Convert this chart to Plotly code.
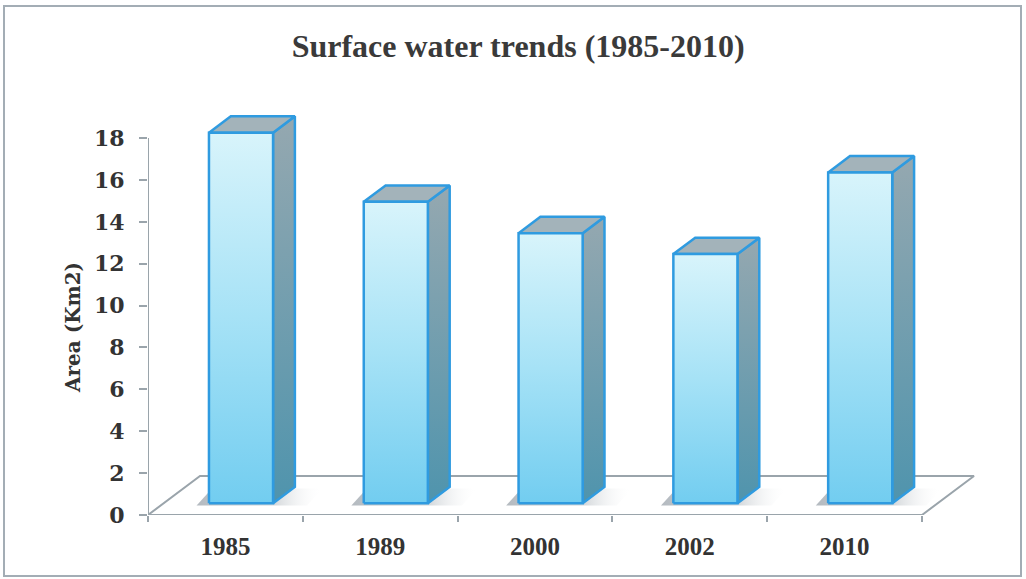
import plotly.graph_objects as go

# ---- data ----
categories = ["1985", "1989", "2000", "2002", "2010"]
area_km2 = [17.7, 14.4, 12.9, 11.9, 15.8]
y_ticks = [0, 2, 4, 6, 8, 10, 12, 14, 16, 18]
title_text = "Surface water trends (1985-2010)"
y_title = "Area (Km2)"

# ---- pseudo-3D geometry (style) ----
DX, DY = 0.336, 1.862      # full floor depth expressed in axis units
F0, F1 = 0.30, 0.72        # bar front / back depth fractions
HALF_W = 0.207             # half bar width (category units)
EDGE = "#2f9be0"
TXT = "#333333"

n = len(categories)
fig = go.Figure()

# floor
fx = [0, n, n + DX, DX, 0]
fy = [0, 0, DY, DY, 0]
fig.add_trace(go.Scatter(x=fx, y=fy, mode="lines", fill="toself",
                         fillcolor="rgba(255,255,255,1)",
                         line=dict(color="#9aa4ab", width=2),
                         hoverinfo="skip", showlegend=False))
# value axis line
fig.add_trace(go.Scatter(x=[0, 0], y=[0, y_ticks[-1]], mode="lines",
                         line=dict(color="#9aa4ab", width=2),
                         hoverinfo="skip", showlegend=False))

ddx = (F1 - F0) * DX
ddy = (F1 - F0) * DY
for i, (cat, v) in enumerate(zip(categories, area_km2)):
    cx = i + 0.5 + F0 * DX
    xl, xr = cx - HALF_W, cx + HALF_W
    yb = F0 * DY
    yt = yb + v
    # soft shadow on floor
    fig.add_trace(go.Scatter(
        x=[xl - 0.08, xr + 0.22, xr + 0.22 + 0.1, xl + 0.02, xl - 0.08],
        y=[yb - 0.1, yb - 0.1, yb + ddy * 0.9, yb + ddy * 0.9, yb - 0.1],
        mode="lines", line=dict(width=0), fill="toself",
        fillgradient=dict(type="horizontal",
                          colorscale=[[0, "rgba(130,140,150,0.6)"], [0.6, "rgba(150,160,168,0.45)"], [1, "rgba(255,255,255,0)"]]),
        hoverinfo="skip", showlegend=False))
    # side face
    fig.add_trace(go.Scatter(
        x=[xr, xr + ddx, xr + ddx, xr, xr],
        y=[yb, yb + ddy, yt + ddy, yt, yb],
        mode="lines", fill="toself",
        fillgradient=dict(type="vertical",
                          colorscale=[[0, "#4f94ad"], [1, "#95a8b0"]]),
        line=dict(color=EDGE, width=2.5),
        hoverinfo="skip", showlegend=False))
    # top face
    fig.add_trace(go.Scatter(
        x=[xl, xr, xr + ddx, xl + ddx, xl],
        y=[yt, yt, yt + ddy, yt + ddy, yt],
        mode="lines", fill="toself", fillcolor="#a3b3ba",
        line=dict(color=EDGE, width=2.5),
        hoverinfo="skip", showlegend=False))
    # front face
    fig.add_trace(go.Scatter(
        x=[xl, xr, xr, xl, xl],
        y=[yb, yb, yt, yt, yb],
        mode="lines", fill="toself",
        fillgradient=dict(type="vertical",
                          colorscale=[[0, "#72cdf0"], [0.5, "#a6e2f6"], [1, "#d8f4fb"]]),
        line=dict(color=EDGE, width=2.5),
        hoverinfo="text", text=f"{cat}: {v}", showlegend=False))

# geometry of plot area in px
L, R, T, B = 148, 36, 100, 64
W, H = 1026, 579
pw, ph = W - L - R, H - T - B
y_max = ph / 20.94
x_max = pw / 154.8

fig.update_layout(
    width=W, height=H,
    margin=dict(l=L, r=R, t=T, b=B),
    paper_bgcolor="white", plot_bgcolor="white",
    title=dict(text=f"<b>{title_text}</b>", x=0.505, xanchor="center",
               y=1 - 46 / H, yanchor="middle", yref="container",
               font=dict(family="Liberation Serif", size=32, color="#3a3a3a")),
    xaxis=dict(range=[0, x_max], showgrid=False, zeroline=False, showline=False,
               tickmode="array", tickvals=[i + 0.5 for i in range(n)],
               ticktext=[f"<b>{c}</b>" for c in categories], ticks="",
               ticklabelstandoff=14,
               tickfont=dict(family="Liberation Serif", size=25, color=TXT),
               minor=dict(tickmode="array", tickvals=list(range(n + 1)),
                          ticks="outside", ticklen=6, tickcolor="#9aa4ab", tickwidth=2),
               fixedrange=True),
    yaxis=dict(range=[0, y_max], showgrid=False, zeroline=False, showline=False,
               tickmode="array", tickvals=y_ticks,
               ticktext=[f"<b>{t}</b>" for t in y_ticks],
               ticks="outside", ticklen=8, tickcolor="#9aa4ab", tickwidth=2,
               ticklabelstandoff=10,
               tickfont=dict(family="DejaVu Serif", size=22, color=TXT),
               fixedrange=True),
    annotations=[dict(text=f"<b>{y_title}</b>", xref="paper", yref="paper",
                      x=(73 - L) / pw, y=(H - B - 328) / ph, textangle=-90,
                      showarrow=False, xanchor="center", yanchor="middle",
                      font=dict(family="DejaVu Serif", size=20, color=TXT))],
    shapes=[dict(type="rect", xref="paper", yref="paper",
                 x0=(4 - L) / pw, x1=(1021 - L) / pw,
                 y0=(H - B - 576) / ph, y1=(H - B - 6) / ph,
                 line=dict(color="#a3adb5", width=2), layer="below")],
)

fig.write_html("out.html")
